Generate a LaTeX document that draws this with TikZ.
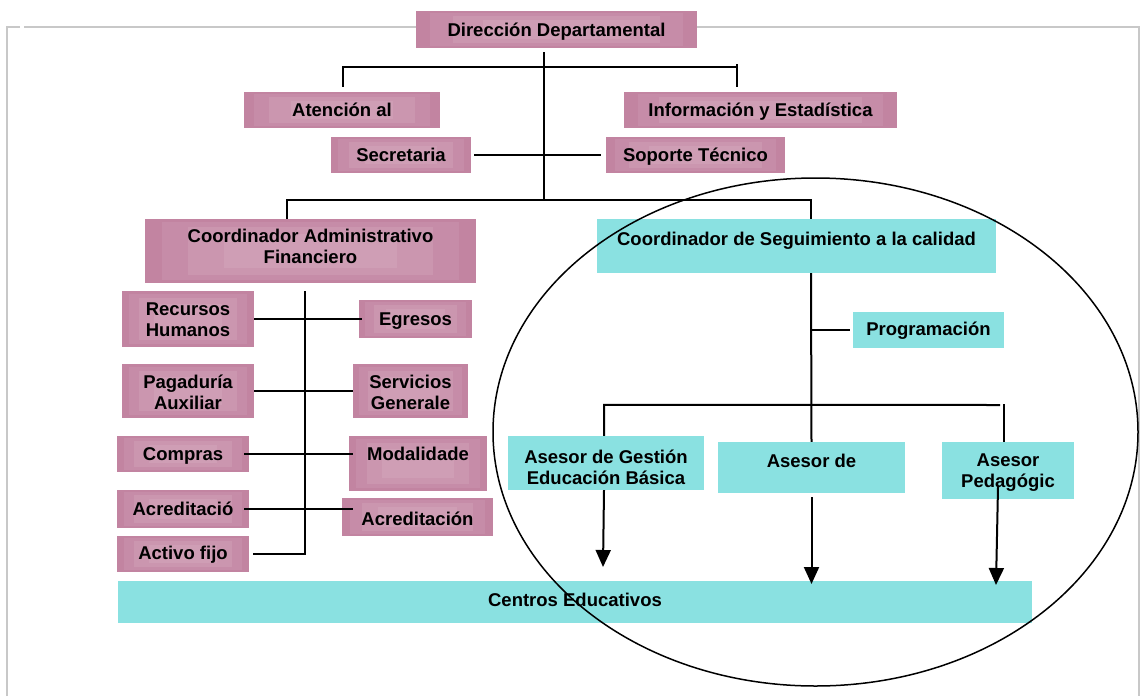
\documentclass[tikz,border=0pt]{standalone}
\usepackage{fontspec}
\setmainfont{Liberation Sans}
\usetikzlibrary{calc,arrows.meta}

\definecolor{pinkA}{HTML}{C284A1}
\definecolor{pinkB}{HTML}{C68CA8}
\definecolor{pinkC}{HTML}{CB96AF}
\definecolor{pinkD}{HTML}{CF9EB5}
\definecolor{cyanbox}{HTML}{8AE1E1}
\definecolor{framegray}{HTML}{C8C8C8}

% box given by its two corners, text centred with an optional vertical offset
\newcommand\orgbox[9][one]{%
  \pgfmathsetmacro\bcx{(#4+#6)/2}%
  \pgfmathsetmacro\bcy{(#5+#7)/2}%
  \pgfmathsetmacro\bwd{#6-#4}%
  \pgfmathsetmacro\bht{#7-#5}%
  \node[#2, minimum width=\bwd pt, minimum height=\bht pt,
        label={[lbl,#1,yshift=#8pt]center:{#9}}] (#3) at (\bcx,\bcy) {};}

\begin{document}
\begin{tikzpicture}[x=1pt,y=-1pt,
  lbl/.style={font=\bfseries\fontsize{18.5}{21}\selectfont, align=center, inner sep=0pt},
  one/.style={text height=17.5pt, text depth=4pt},
  two/.style={},
  pbox/.style={fill=pinkA, inner sep=0pt, path picture={
      \foreach \f/\c in {0.05/pinkB,0.13/pinkC,0.24/pinkD}{
        \fill[\c] ($(path picture bounding box.south west)!\f!(path picture bounding box.north east)$)
          rectangle ($(path picture bounding box.north east)!\f!(path picture bounding box.south west)$);}}},
  cbox/.style={fill=cyanbox, inner sep=0pt},
  conn/.style={draw=black, line width=2pt},
  arr/.style={conn, -{Triangle[width=15pt,length=17pt]}},
  framel/.style={draw=framegray, line width=1.6pt},
  oval/.style={draw=black, line width=1.5pt}]

\fill[white] (0,0) rectangle (1144,696);

% page frame
\draw[framel] (7,696) -- (7,27) -- (20,27);
\draw[framel] (24,27) -- (1139,27) -- (1139,696);

% upper management
\orgbox{pbox}{dir}{416}{11}{697}{48}{0}{Dirección Departamental}
\orgbox{pbox}{aten}{244}{92}{440}{128}{0}{Atención al}
\orgbox{pbox}{info}{624}{92}{897}{128}{0}{Información y Estadística}
\orgbox{pbox}{secr}{331}{137}{471}{173}{0}{Secretaria}
\orgbox{pbox}{sop}{606}{137}{785}{173}{0}{Soporte Técnico}

% administrative branch
\orgbox[two]{pbox}{caf}{145}{219}{476}{283}{4.5}{Coordinador Administrativo\\Financiero}
\orgbox[two]{pbox}{rh}{122}{291}{254}{347}{-1}{Recursos\\Humanos}
\orgbox{pbox}{egr}{359}{300}{472}{338}{0}{Egresos}
\orgbox[two]{pbox}{pag}{122}{364}{254}{418}{-1}{Pagaduría\\Auxiliar}
\orgbox[two]{pbox}{serv}{353}{364}{468}{418}{-1}{Servicios\\Generale}
\orgbox{pbox}{comp}{117}{436}{249}{472}{0}{Compras}
\orgbox{pbox}{mod}{349}{436}{487}{491}{9.5}{Modalidade}
\orgbox{pbox}{acra}{117}{490}{249}{528}{0}{Acreditació}
\orgbox{pbox}{acrb}{342}{498}{493}{536}{-1.5}{Acreditación}
\orgbox{pbox}{act}{117}{536}{249}{572}{1.5}{Activo fijo}

% quality branch
\orgbox{cbox}{cs}{597}{219}{996}{273}{7}{Coordinador de Seguimiento a la calidad}
\orgbox{cbox}{prog}{853}{312}{1004}{348}{1}{Programación}
\orgbox[two]{cbox}{ag}{508}{436}{704}{490}{-4}{Asesor de Gestión\\Educación Básica}
\orgbox{cbox}{ad}{718}{442}{905}{493}{6.5}{Asesor de}
\orgbox[two]{cbox}{ap}{942}{442}{1074}{499}{-2.5}{Asesor\\Pedagógic}
\orgbox{cbox}{cen}{118}{581}{1032}{623}{2}{Centros Educativos}

% top-level connectors
\coordinate (busA) at (544,67);
\coordinate (busB) at (544,200);
\draw[conn] ([xshift=-12.5pt,yshift=-4pt]dir.south) -- (busB);
\draw[conn] ([xshift=1pt,yshift=5pt]aten.north) |- (busA) -- (737,67);
\draw[conn] ([xshift=-23.5pt,yshift=5pt]info.north) -- ++(0,-23);
\draw[conn] ([xshift=3pt]secr.east) -- ([xshift=-5pt]sop.west);
\draw[conn] ([xshift=-23.5pt]caf.north) |- (busB) -| ([xshift=14.5pt]cs.north);

% quality branch connectors
\coordinate (progJ) at (811,330);
\draw[conn] ([xshift=14.5pt]cs.south) -- (ad.north);
\draw[conn] (progJ) -- ([xshift=-3pt]prog.west);
\draw[conn] ([xshift=-2pt]ag.north) -- ++(0,-31) -- (1000,405);
\draw[conn] ([xshift=-4pt]ap.north) -- ++(0,-38);

\coordinate (tipA) at (603,567);
\coordinate (tipB) at (811.5,584);
\coordinate (tipC) at (996,585);
\draw[arr] ([xshift=-2pt]ag.south) -- (tipA);
\draw[arr] ([yshift=-4pt]ad.south) -- (tipB);
\draw[arr] ([xshift=-10pt,yshift=12pt]ap.south) -- (tipC);

% administrative branch connectors
\draw[conn] ([xshift=-5.5pt,yshift=-8pt]caf.south) -- (305,554) -- ([xshift=4pt]act.east);
\draw[conn] (rh.east) -- ([xshift=3pt]egr.west);
\draw[conn] (pag.east) -- (serv.west);
\draw[conn] ([xshift=-5pt]comp.east) -- ([xshift=4pt]comp.east -| mod.west);
\draw[conn] ([xshift=-5pt]acra.east) -- ([xshift=11pt]acra.east -| acrb.west);

% outline around the quality branch
\draw[oval] (815.5,432) ellipse [x radius=322.5, y radius=254];

\end{tikzpicture}
\end{document}
